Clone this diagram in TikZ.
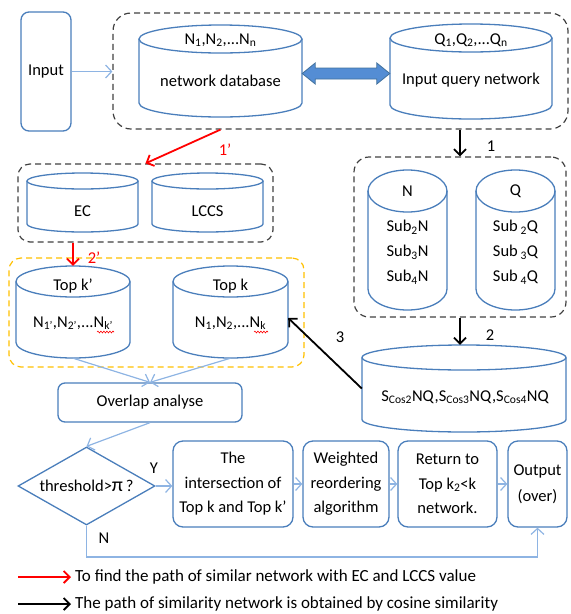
\documentclass[tikz,border=0pt]{standalone}
\usepackage{fontspec}
\setmainfont{Carlito}
\usetikzlibrary{arrows.meta,shapes.geometric,calc,decorations.pathmorphing}

\definecolor{bl}{RGB}{74,126,187}
\definecolor{lb}{RGB}{142,180,227}
\definecolor{dg}{RGB}{64,64,64}
\definecolor{yl}{RGB}{255,192,0}
\definecolor{bafill}{RGB}{84,141,212}
\definecolor{badraw}{RGB}{65,113,156}

\tikzset{
  cylline/.style={draw=bl,line width=1.3pt},
  dbox/.style={draw=dg,dash pattern=on 6pt off 4pt,line width=1.2pt,rounded corners=#1,inner sep=0pt},
  dbox/.default=14pt,
  bbox/.style={draw=bl,line width=1.3pt,rounded corners=8pt,align=center,inner sep=0pt,
    font=\fontsize{16.5}{24.5}\selectfont},
  txt/.style={inner sep=0pt,align=center},
  lbarrow/.style={draw=lb,line width=1.2pt,-{Straight Barb[length=6pt,width=13pt]}},
  blkarrow/.style={draw=black,line width=1.8pt,-{Straight Barb[length=6pt,width=12pt]}},
  redarrow/.style={draw=red,line width=1.8pt,-{Straight Barb[length=6pt,width=12pt]}},
  squig/.style={draw=red,line width=0.6pt,decorate,decoration={snake,amplitude=0.9pt,segment length=3pt}}
}

\newcommand\cylshape[6]{%
  \pgfmathsetmacro\cylcx{(#2+#4)/2}%
  \pgfmathsetmacro\cylrx{(#4-#2)/2}%
  \pgfmathsetmacro\cylcy{(#3+#5)/2}%
  \pgfmathsetmacro\cylw{#4-#2}%
  \pgfmathsetmacro\cylh{#5-#3}%
  \draw[cylline] (#2,#3+#6) -- (#2,#5-#6) arc[start angle=180,end angle=0,x radius=\cylrx,y radius=#6] -- (#4,#3+#6);
  \draw[cylline] (\cylcx,#3+#6) ellipse[x radius=\cylrx,y radius=#6];
  \node[inner sep=0pt,minimum width=\cylw pt,minimum height=\cylh pt] (#1) at (\cylcx,\cylcy) {};
}

\begin{document}
\begin{tikzpicture}[x=1pt,y=-1pt,font=\fontsize{16.5}{20}\selectfont]
\useasboundingbox (0,0) rectangle (571,614);

% dashed groups
\node[dbox=18pt,minimum width=455pt,minimum height=116pt] (topbox) at (340.5,71) {};
\node[dbox=15pt,minimum width=212pt,minimum height=160pt] (nqbox) at (460,237) {};
\node[dbox=12pt,minimum width=255pt,minimum height=78pt] (ecbox) at (145.5,203) {};
\node[dbox=12pt,draw=yl,minimum width=295pt,minimum height=109pt] (ybox) at (156.5,312.5) {};

% input
\node[bbox,minimum width=50pt,minimum height=119pt] (input) at (46,71.5) {Input};

% cylinders
\cylshape{db}{139}{25}{302}{117}{14}
\node[txt] (dbt1) at (220.5,40) {N\textsubscript{1},N\textsubscript{2},...N\textsubscript{n}};
\node[txt] (dbt2) at (220.5,81) {network database};

\cylshape{qn}{390}{24}{552}{119}{14}
\node[txt] (qnt1) at (471,40) {Q\textsubscript{1},Q\textsubscript{2},...Q\textsubscript{n}};
\node[txt] (qnt2) at (471,80) {Input query network};

\cylshape{cn}{368}{170}{447}{310}{21}
\node[txt] (cnt1) at (407.5,191) {N};
\node[txt,font=\fontsize{16.5}{25}\selectfont] (cnt2) at (407.5,252) {Sub\textsubscript{2}N\\Sub\textsubscript{3}N\\Sub\textsubscript{4}N};

\cylshape{cq}{476}{170}{555}{310}{21}
\node[txt] (cqt1) at (515.5,191) {Q};
\node[txt,font=\fontsize{16.5}{25}\selectfont] (cqt2) at (515.5,252) {Sub\,\textsubscript{2}Q\\Sub\,\textsubscript{3}Q\\Sub\,\textsubscript{4}Q};

\cylshape{cos}{362}{345}{566}{432}{12.5}
\node[txt] (cost) at (465,397) {S\textsubscript{Cos2}NQ,S\textsubscript{Cos3}NQ,S\textsubscript{Cos4}NQ};

\cylshape{ec}{27}{173}{138}{232}{8}
\node[txt] (ect) at (82.5,211) {EC};
\cylshape{lc}{152}{173}{263}{232}{8}
\node[txt] (lct) at (207.5,211) {LCCS};

\cylshape{tkp}{16}{266}{130}{358}{15.5}
\node[txt] (tkpt1) at (73,286) {Top k’};
\node[txt] (tkpt2) at (73,323) {N\textsubscript{1’},N\textsubscript{2’},...N\textsubscript{k’}};
\cylshape{tk}{173}{266}{288}{358}{15.5}
\node[txt] (tkt1) at (230.5,286) {Top k};
\node[txt] (tkt2) at (230.5,323) {N\textsubscript{1},N\textsubscript{2},...N\textsubscript{k}};
\draw[squig] (97,332) -- (114,332);
\draw[squig] (254,332) -- (268,332);

% block double arrow
\coordinate (ba) at ([yshift=-2.5pt]db.east);
\coordinate (bb) at ([yshift=-2pt]qn.west);
\filldraw[fill=bafill,draw=badraw,line width=0.8pt] (ba) -- ($(ba)+(13,-10.5)$) -- ($(ba)+(13,-5.5)$) -- ($(bb)+(-13,-5.5)$) -- ($(bb)+(-13,-10.5)$) -- (bb) -- ($(bb)+(-13,10.5)$) -- ($(bb)+(-13,5.5)$) -- ($(ba)+(13,5.5)$) -- ($(ba)+(13,10.5)$) -- cycle;

% lower flow
\node[bbox,rounded corners=7pt,minimum width=184pt,minimum height=39pt] (ov) at (150,402.5) {Overlap analyse};
\node[diamond,draw=bl,line width=1.3pt,aspect=1.756,minimum width=137pt,minimum height=78pt,inner sep=0pt] (dia) at (86.5,486) {threshold>{\fontsize{20}{20}\selectfont π}\,?};
\node[bbox,rounded corners=10pt,minimum width=120pt,minimum height=86pt] (inter) at (233,484) {The\\intersection of\\Top k and Top k’};
\node[bbox,rounded corners=10pt,minimum width=86pt,minimum height=86pt] (wr) at (346,484) {Weighted\\reordering\\algorithm};
\node[bbox,rounded corners=10pt,minimum width=99pt,minimum height=86pt] (ret) at (447.5,484) {Return to\\Top k\textsubscript{2}<k\\network.};
\node[bbox,rounded corners=10pt,minimum width=59pt,minimum height=86pt,font=\fontsize{16.5}{26}\selectfont] (out) at (537.5,484) {Output\\(over)};

% connectors
\draw[lbarrow] (input.east) -- (input.east -| topbox.west);
\draw[blkarrow] (nqbox.north |- topbox.south) -- (nqbox.north);
\node[txt] (l1) at (491,146) {1};
\draw[blkarrow] (nqbox.south) -- (nqbox.south |- cos.north);
\node[txt] (l2) at (490,335) {2};
\draw[blkarrow] (cos.west) -- ([yshift=-6pt]tk.east);
\node[txt] (l3) at (340,337) {3};
\draw[redarrow] (db.south |- topbox.south) -- (ecbox.north);
\node[txt,text=red] (l1p) at (225,150) {1’};
\draw[redarrow] (tkp.north |- ecbox.south) -- (tkp.north);
\node[txt,text=red] (l2p) at (94,258) {2’};
\draw[lbarrow] (tkp.south) -- (ov.north);
\draw[lbarrow] (tk.south) -- (ov.north);
\draw[lbarrow] (ov.south) -- (dia.north);
\draw[lbarrow] (dia.east) -- (dia.east -| inter.west);
\node[txt] (ylab) at (154,468) {Y};
\draw[lbarrow] (inter.east) -- (wr.west);
\draw[lbarrow] (wr.east) -- (ret.west);
\draw[lbarrow] (ret.east) -- (out.west);
\coordinate (nlow) at (0,557);
\draw[lbarrow] (dia.south) -- (dia.south |- nlow) -| (out.south);
\node[txt] (nlab) at (104,538) {N};

% legend
\coordinate (lg1s) at (18,577);
\node[txt,anchor=west,font=\fontsize{17}{20}\selectfont] (lg1) at (75,577) {To find the path of similar network with EC and LCCS value};
\draw[redarrow,shorten >=4pt] (lg1s) -- (lg1.west);
\coordinate (lg2s) at (18,604);
\node[txt,anchor=west,font=\fontsize{17}{20}\selectfont] (lg2) at (75,604) {The path of similarity network is obtained by cosine similarity};
\draw[blkarrow,shorten >=4pt] (lg2s) -- (lg2.west);
\end{tikzpicture}
\end{document}
